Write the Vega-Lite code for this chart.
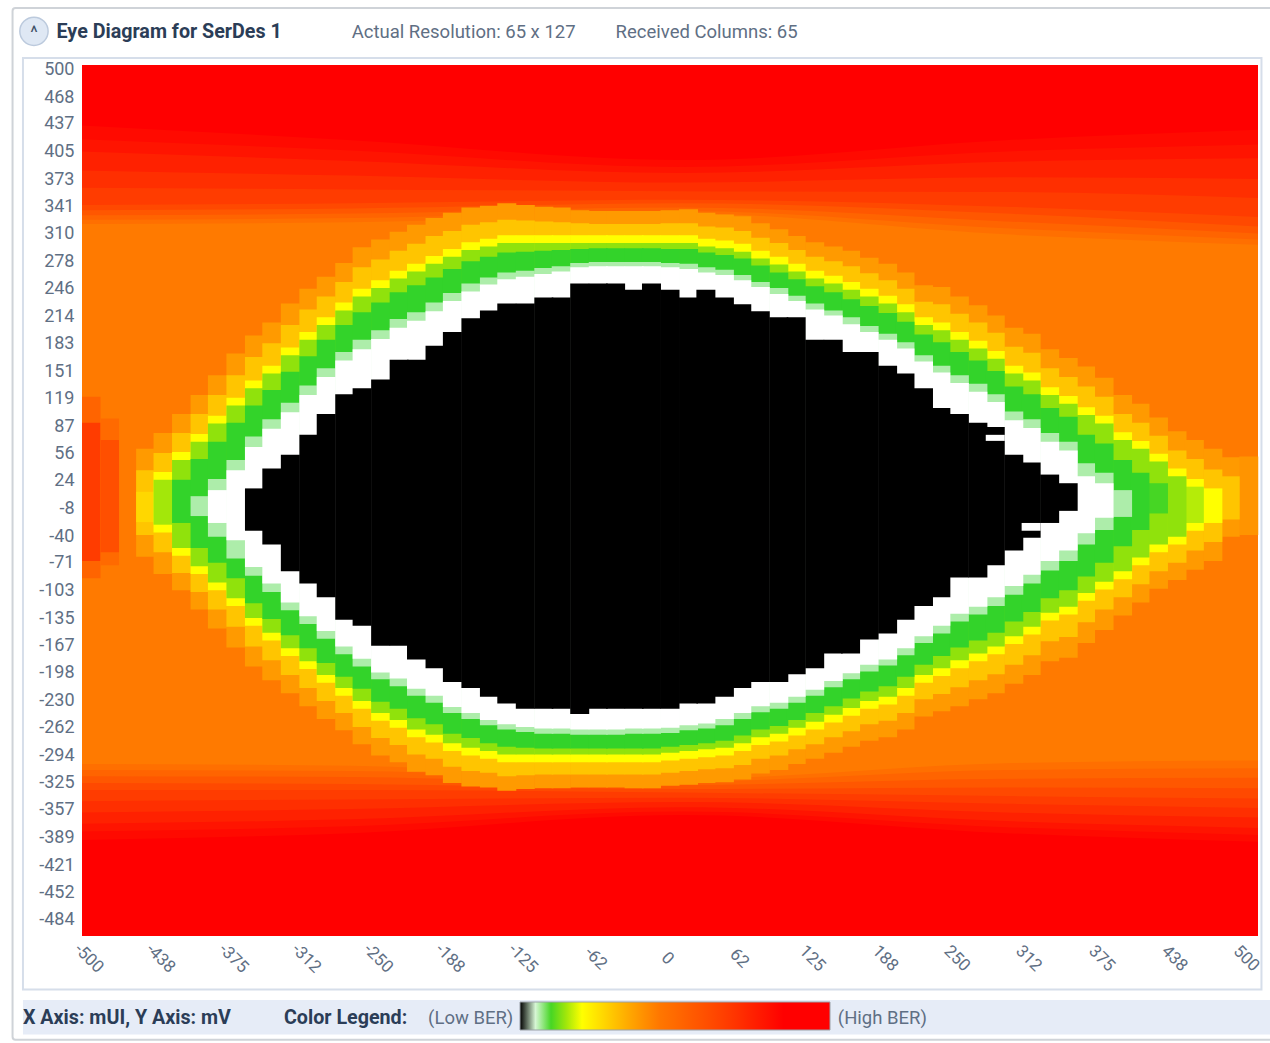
{"$schema":"https://vega.github.io/schema/vega-lite/v6.json","width":1176,"height":871,"autosize":"none","padding":{"left":82,"top":65,"right":12,"bottom":107},"background":"#ffffff",
"datasets":{
"panels":[{"x":-568,"x2":530,"a":570,"b":-624,"k":"outer"},{"x":-559,"x2":511,"a":512,"b":-566,"k":"inner"},{"x":-559,"x2":530,"a":-578,"b":-618,"k":"foot"}],
"base":[{"x":-508,"x2":508,"a":504,"b":-504,"v":44}],
"bands":[
{"x":-508,"y":320,"e":504,"v":48,"s":"t"},{"x":-275,"y":322,"e":504,"v":48,"s":"t"},{"x":10,"y":332,"e":504,"v":48,"s":"t"},{"x":290,"y":308,"e":504,"v":48,"s":"t"},{"x":508,"y":296,"e":504,"v":48,"s":"t"},
{"x":-508,"y":325,"e":504,"v":52,"s":"t"},{"x":-275,"y":327,"e":504,"v":52,"s":"t"},{"x":10,"y":335,"e":504,"v":52,"s":"t"},{"x":290,"y":315,"e":504,"v":52,"s":"t"},{"x":508,"y":302,"e":504,"v":52,"s":"t"},
{"x":-508,"y":330,"e":504,"v":57,"s":"t"},{"x":-275,"y":332,"e":504,"v":57,"s":"t"},{"x":10,"y":339,"e":504,"v":57,"s":"t"},{"x":290,"y":323,"e":504,"v":57,"s":"t"},{"x":508,"y":309,"e":504,"v":57,"s":"t"},
{"x":-508,"y":336,"e":504,"v":62,"s":"t"},{"x":-275,"y":338,"e":504,"v":62,"s":"t"},{"x":10,"y":344,"e":504,"v":62,"s":"t"},{"x":290,"y":332,"e":504,"v":62,"s":"t"},{"x":508,"y":317,"e":504,"v":62,"s":"t"},
{"x":-508,"y":342,"e":504,"v":67,"s":"t"},{"x":-275,"y":344,"e":504,"v":67,"s":"t"},{"x":10,"y":348,"e":504,"v":67,"s":"t"},{"x":290,"y":340,"e":504,"v":67,"s":"t"},{"x":508,"y":328,"e":504,"v":67,"s":"t"},
{"x":-508,"y":362,"e":504,"v":71,"s":"t"},{"x":-275,"y":360,"e":504,"v":71,"s":"t"},{"x":10,"y":358,"e":504,"v":71,"s":"t"},{"x":290,"y":357,"e":504,"v":71,"s":"t"},{"x":508,"y":350,"e":504,"v":71,"s":"t"},
{"x":-508,"y":382,"e":504,"v":75,"s":"t"},{"x":-275,"y":376,"e":504,"v":75,"s":"t"},{"x":10,"y":368,"e":504,"v":75,"s":"t"},{"x":290,"y":374,"e":504,"v":75,"s":"t"},{"x":508,"y":372,"e":504,"v":75,"s":"t"},
{"x":-508,"y":404,"e":504,"v":79,"s":"t"},{"x":-275,"y":393,"e":504,"v":79,"s":"t"},{"x":10,"y":379,"e":504,"v":79,"s":"t"},{"x":290,"y":392,"e":504,"v":79,"s":"t"},{"x":508,"y":396,"e":504,"v":79,"s":"t"},
{"x":-508,"y":418,"e":504,"v":82,"s":"t"},{"x":-275,"y":405,"e":504,"v":82,"s":"t"},{"x":10,"y":386,"e":504,"v":82,"s":"t"},{"x":290,"y":404,"e":504,"v":82,"s":"t"},{"x":508,"y":412,"e":504,"v":82,"s":"t"},
{"x":-508,"y":434,"e":504,"v":85,"s":"t"},{"x":-275,"y":417,"e":504,"v":85,"s":"t"},{"x":10,"y":394,"e":504,"v":85,"s":"t"},{"x":290,"y":417,"e":504,"v":85,"s":"t"},{"x":508,"y":429,"e":504,"v":85,"s":"t"},
{"x":-508,"y":-305,"e":-504,"v":48,"s":"b"},{"x":-275,"y":-307,"e":-504,"v":48,"s":"b"},{"x":10,"y":-322,"e":-504,"v":48,"s":"b"},{"x":290,"y":-304,"e":-504,"v":48,"s":"b"},{"x":508,"y":-301,"e":-504,"v":48,"s":"b"},
{"x":-508,"y":-312,"e":-504,"v":52,"s":"b"},{"x":-275,"y":-313,"e":-504,"v":52,"s":"b"},{"x":10,"y":-325,"e":-504,"v":52,"s":"b"},{"x":290,"y":-312,"e":-504,"v":52,"s":"b"},{"x":508,"y":-310,"e":-504,"v":52,"s":"b"},
{"x":-508,"y":-319,"e":-504,"v":57,"s":"b"},{"x":-275,"y":-320,"e":-504,"v":57,"s":"b"},{"x":10,"y":-329,"e":-504,"v":57,"s":"b"},{"x":290,"y":-322,"e":-504,"v":57,"s":"b"},{"x":508,"y":-321,"e":-504,"v":57,"s":"b"},
{"x":-508,"y":-327,"e":-504,"v":62,"s":"b"},{"x":-275,"y":-328,"e":-504,"v":62,"s":"b"},{"x":10,"y":-334,"e":-504,"v":62,"s":"b"},{"x":290,"y":-332,"e":-504,"v":62,"s":"b"},{"x":508,"y":-333,"e":-504,"v":62,"s":"b"},
{"x":-508,"y":-335,"e":-504,"v":67,"s":"b"},{"x":-275,"y":-335,"e":-504,"v":67,"s":"b"},{"x":10,"y":-338,"e":-504,"v":67,"s":"b"},{"x":290,"y":-342,"e":-504,"v":67,"s":"b"},{"x":508,"y":-345,"e":-504,"v":67,"s":"b"},
{"x":-508,"y":-348,"e":-504,"v":71,"s":"b"},{"x":-275,"y":-346,"e":-504,"v":71,"s":"b"},{"x":10,"y":-344,"e":-504,"v":71,"s":"b"},{"x":290,"y":-351,"e":-504,"v":71,"s":"b"},{"x":508,"y":-356,"e":-504,"v":71,"s":"b"},
{"x":-508,"y":-361,"e":-504,"v":75,"s":"b"},{"x":-275,"y":-357,"e":-504,"v":75,"s":"b"},{"x":10,"y":-349,"e":-504,"v":75,"s":"b"},{"x":290,"y":-361,"e":-504,"v":75,"s":"b"},{"x":508,"y":-367,"e":-504,"v":75,"s":"b"},
{"x":-508,"y":-374,"e":-504,"v":79,"s":"b"},{"x":-275,"y":-369,"e":-504,"v":79,"s":"b"},{"x":10,"y":-355,"e":-504,"v":79,"s":"b"},{"x":290,"y":-371,"e":-504,"v":79,"s":"b"},{"x":508,"y":-379,"e":-504,"v":79,"s":"b"},
{"x":-508,"y":-383,"e":-504,"v":82,"s":"b"},{"x":-275,"y":-377,"e":-504,"v":82,"s":"b"},{"x":10,"y":-360,"e":-504,"v":82,"s":"b"},{"x":290,"y":-378,"e":-504,"v":82,"s":"b"},{"x":508,"y":-387,"e":-504,"v":82,"s":"b"},
{"x":-508,"y":-393,"e":-504,"v":85,"s":"b"},{"x":-275,"y":-385,"e":-504,"v":85,"s":"b"},{"x":10,"y":-364,"e":-504,"v":85,"s":"b"},{"x":290,"y":-385,"e":-504,"v":85,"s":"b"},{"x":508,"y":-395,"e":-504,"v":85,"s":"b"}],
"spots":[{"x":-508,"x2":-492,"a":120,"b":-90,"v":52},{"x":-508,"x2":-492,"a":90,"b":-70,"v":67},{"x":-492,"x2":-476,"a":95,"b":-75,"v":50},{"x":-492,"x2":-476,"a":70,"b":-60,"v":60}],
"notches":[{"x":281,"a":76,"b":69,"v":2.5},{"x":312,"a":-26,"b":-35,"v":2.5}],
"cells":[
{"x":-453,"a":60,"b":-65,"v":38},{"x":-453,"a":35,"b":-40,"v":30},{"x":-453,"a":10,"b":-25,"v":27},
{"x":-438,"a":78,"b":-85,"v":38},{"x":-438,"a":55,"b":-60,"v":30},{"x":-438,"a":33,"b":-37,"v":20},{"x":-438,"a":24,"b":-28,"v":15},
{"x":-422,"a":100,"b":-104,"v":38},{"x":-422,"a":78,"b":-84,"v":30},{"x":-422,"a":56,"b":-64,"v":20},{"x":-422,"a":47,"b":-55,"v":14},{"x":-422,"a":24,"b":-26,"v":9},
{"x":-406,"a":122,"b":-126,"v":38},{"x":-406,"a":100,"b":-106,"v":30},{"x":-406,"a":77,"b":-85,"v":20},{"x":-406,"a":68,"b":-76,"v":14},{"x":-406,"a":48,"b":-55,"v":9},{"x":-406,"a":5,"b":-18,"v":6},
{"x":-391,"a":145,"b":-148,"v":38},{"x":-391,"a":122,"b":-126,"v":30},{"x":-391,"a":98,"b":-104,"v":20},{"x":-391,"a":89,"b":-95,"v":14},{"x":-391,"a":68,"b":-72,"v":9},{"x":-391,"a":25,"b":-42,"v":6},{"x":-391,"a":12,"b":-26,"v":2.5},
{"x":-375,"a":170,"b":-170,"v":38},{"x":-375,"a":145,"b":-146,"v":30},{"x":-375,"a":119,"b":-122,"v":20},{"x":-375,"a":110,"b":-113,"v":14},{"x":-375,"a":90,"b":-90,"v":9},{"x":-375,"a":47,"b":-67,"v":6},{"x":-375,"a":35,"b":-46,"v":2.5},
{"x":-359,"a":191,"b":-192,"v":38},{"x":-359,"a":166,"b":-169,"v":30},{"x":-359,"a":139,"b":-145,"v":20},{"x":-359,"a":130,"b":-136,"v":14},{"x":-359,"a":110,"b":-119,"v":9},{"x":-359,"a":74,"b":-87,"v":6},{"x":-359,"a":62,"b":-77,"v":2.5},{"x":-359,"a":14,"b":-35,"v":0},
{"x":-344,"a":206,"b":-208,"v":38},{"x":-344,"a":182,"b":-185,"v":30},{"x":-344,"a":156,"b":-162,"v":20},{"x":-344,"a":147,"b":-153,"v":14},{"x":-344,"a":128,"b":-137,"v":9},{"x":-344,"a":94,"b":-106,"v":6},{"x":-344,"a":83,"b":-96,"v":2.5},{"x":-344,"a":37,"b":-51,"v":0},
{"x":-328,"a":228,"b":-223,"v":38},{"x":-328,"a":203,"b":-202,"v":30},{"x":-328,"a":177,"b":-180,"v":20},{"x":-328,"a":168,"b":-171,"v":14},{"x":-328,"a":149,"b":-156,"v":9},{"x":-328,"a":113,"b":-127,"v":6},{"x":-328,"a":102,"b":-118,"v":2.5},{"x":-328,"a":53,"b":-82,"v":0},
{"x":-312,"a":245,"b":-238,"v":38},{"x":-312,"a":221,"b":-217,"v":30},{"x":-312,"a":195,"b":-195,"v":20},{"x":-312,"a":186,"b":-186,"v":14},{"x":-312,"a":167,"b":-171,"v":9},{"x":-312,"a":133,"b":-143,"v":6},{"x":-312,"a":122,"b":-134,"v":2.5},{"x":-312,"a":76,"b":-96,"v":0},
{"x":-297,"a":259,"b":-253,"v":38},{"x":-297,"a":236,"b":-232,"v":30},{"x":-297,"a":212,"b":-211,"v":20},{"x":-297,"a":203,"b":-202,"v":14},{"x":-297,"a":186,"b":-188,"v":9},{"x":-297,"a":153,"b":-160,"v":6},{"x":-297,"a":143,"b":-151,"v":2.5},{"x":-297,"a":100,"b":-112,"v":0},
{"x":-281,"a":275,"b":-266,"v":38},{"x":-281,"a":253,"b":-246,"v":30},{"x":-281,"a":229,"b":-226,"v":20},{"x":-281,"a":220,"b":-217,"v":14},{"x":-281,"a":203,"b":-204,"v":9},{"x":-281,"a":172,"b":-178,"v":6},{"x":-281,"a":162,"b":-169,"v":2.5},{"x":-281,"a":123,"b":-138,"v":0},
{"x":-266,"a":293,"b":-282,"v":38},{"x":-266,"a":270,"b":-262,"v":30},{"x":-266,"a":245,"b":-241,"v":20},{"x":-266,"a":236,"b":-232,"v":14},{"x":-266,"a":218,"b":-218,"v":9},{"x":-266,"a":186,"b":-192,"v":6},{"x":-266,"a":175,"b":-183,"v":2.5},{"x":-266,"a":130,"b":-145,"v":0},
{"x":-250,"a":302,"b":-295,"v":38},{"x":-250,"a":279,"b":-275,"v":30},{"x":-250,"a":255,"b":-255,"v":20},{"x":-250,"a":246,"b":-246,"v":14},{"x":-250,"a":229,"b":-233,"v":9},{"x":-250,"a":197,"b":-207,"v":6},{"x":-250,"a":187,"b":-199,"v":2.5},{"x":-250,"a":140,"b":-168,"v":0},
{"x":-234,"a":311,"b":-303,"v":38},{"x":-234,"a":289,"b":-283,"v":30},{"x":-234,"a":266,"b":-263,"v":20},{"x":-234,"a":257,"b":-254,"v":14},{"x":-234,"a":241,"b":-241,"v":9},{"x":-234,"a":210,"b":-215,"v":6},{"x":-234,"a":200,"b":-206,"v":2.5},{"x":-234,"a":163,"b":-168,"v":0},
{"x":-219,"a":319,"b":-314,"v":38},{"x":-219,"a":297,"b":-294,"v":30},{"x":-219,"a":274,"b":-274,"v":20},{"x":-219,"a":265,"b":-265,"v":14},{"x":-219,"a":249,"b":-252,"v":9},{"x":-219,"a":218,"b":-226,"v":6},{"x":-219,"a":208,"b":-218,"v":2.5},{"x":-219,"a":163,"b":-184,"v":0},
{"x":-203,"a":327,"b":-318,"v":38},{"x":-203,"a":306,"b":-299,"v":30},{"x":-203,"a":283,"b":-280,"v":20},{"x":-203,"a":274,"b":-271,"v":14},{"x":-203,"a":258,"b":-259,"v":9},{"x":-203,"a":229,"b":-234,"v":6},{"x":-203,"a":219,"b":-226,"v":2.5},{"x":-203,"a":179,"b":-194,"v":0},
{"x":-188,"a":333,"b":-327,"v":38},{"x":-188,"a":312,"b":-308,"v":30},{"x":-188,"a":291,"b":-290,"v":20},{"x":-188,"a":282,"b":-281,"v":14},{"x":-188,"a":268,"b":-270,"v":9},{"x":-188,"a":240,"b":-246,"v":6},{"x":-188,"a":231,"b":-239,"v":2.5},{"x":-188,"a":195,"b":-210,"v":0},
{"x":-172,"a":339,"b":-331,"v":38},{"x":-172,"a":319,"b":-313,"v":30},{"x":-172,"a":299,"b":-295,"v":20},{"x":-172,"a":290,"b":-286,"v":14},{"x":-172,"a":277,"b":-275,"v":9},{"x":-172,"a":251,"b":-253,"v":6},{"x":-172,"a":242,"b":-246,"v":2.5},{"x":-172,"a":211,"b":-217,"v":0},
{"x":-156,"a":341,"b":-332,"v":38},{"x":-156,"a":322,"b":-315,"v":30},{"x":-156,"a":303,"b":-299,"v":20},{"x":-156,"a":294,"b":-290,"v":14},{"x":-156,"a":282,"b":-281,"v":9},{"x":-156,"a":258,"b":-260,"v":6},{"x":-156,"a":250,"b":-254,"v":2.5},{"x":-156,"a":220,"b":-227,"v":0},
{"x":-141,"a":344,"b":-336,"v":38},{"x":-141,"a":325,"b":-319,"v":30},{"x":-141,"a":307,"b":-303,"v":20},{"x":-141,"a":298,"b":-294,"v":14},{"x":-141,"a":287,"b":-285,"v":9},{"x":-141,"a":264,"b":-265,"v":6},{"x":-141,"a":256,"b":-259,"v":2.5},{"x":-141,"a":228,"b":-235,"v":0},
{"x":-125,"a":342,"b":-334,"v":38},{"x":-125,"a":324,"b":-318,"v":30},{"x":-125,"a":307,"b":-303,"v":20},{"x":-125,"a":298,"b":-294,"v":14},{"x":-125,"a":288,"b":-286,"v":9},{"x":-125,"a":266,"b":-268,"v":6},{"x":-125,"a":259,"b":-262,"v":2.5},{"x":-125,"a":228,"b":-241,"v":0},
{"x":-109,"a":340,"b":-333,"v":38},{"x":-109,"a":323,"b":-317,"v":30},{"x":-109,"a":307,"b":-303,"v":20},{"x":-109,"a":298,"b":-294,"v":14},{"x":-109,"a":289,"b":-287,"v":9},{"x":-109,"a":269,"b":-270,"v":6},{"x":-109,"a":262,"b":-264,"v":2.5},{"x":-109,"a":235,"b":-241,"v":0},
{"x":-94,"a":339,"b":-333,"v":38},{"x":-94,"a":322,"b":-317,"v":30},{"x":-94,"a":307,"b":-303,"v":20},{"x":-94,"a":298,"b":-294,"v":14},{"x":-94,"a":290,"b":-287,"v":9},{"x":-94,"a":271,"b":-270,"v":6},{"x":-94,"a":265,"b":-264,"v":2.5},{"x":-94,"a":235,"b":-241,"v":0},
{"x":-78,"a":336,"b":-332,"v":38},{"x":-78,"a":321,"b":-317,"v":30},{"x":-78,"a":307,"b":-303,"v":20},{"x":-78,"a":298,"b":-294,"v":14},{"x":-78,"a":291,"b":-287,"v":9},{"x":-78,"a":275,"b":-271,"v":6},{"x":-78,"a":270,"b":-265,"v":2.5},{"x":-78,"a":251,"b":-247,"v":0},
{"x":-62,"a":335,"b":-332,"v":38},{"x":-62,"a":320,"b":-317,"v":30},{"x":-62,"a":307,"b":-303,"v":20},{"x":-62,"a":298,"b":-294,"v":14},{"x":-62,"a":292,"b":-287,"v":9},{"x":-62,"a":276,"b":-271,"v":6},{"x":-62,"a":271,"b":-265,"v":2.5},{"x":-62,"a":251,"b":-241,"v":0},
{"x":-47,"a":335,"b":-332,"v":38},{"x":-47,"a":320,"b":-317,"v":30},{"x":-47,"a":307,"b":-303,"v":20},{"x":-47,"a":298,"b":-294,"v":14},{"x":-47,"a":292,"b":-287,"v":9},{"x":-47,"a":276,"b":-271,"v":6},{"x":-47,"a":271,"b":-265,"v":2.5},{"x":-47,"a":251,"b":-241,"v":0},
{"x":-31,"a":335,"b":-333,"v":38},{"x":-31,"a":320,"b":-317,"v":30},{"x":-31,"a":307,"b":-303,"v":20},{"x":-31,"a":298,"b":-294,"v":14},{"x":-31,"a":292,"b":-287,"v":9},{"x":-31,"a":276,"b":-270,"v":6},{"x":-31,"a":271,"b":-264,"v":2.5},{"x":-31,"a":244,"b":-241,"v":0},
{"x":-16,"a":335,"b":-333,"v":38},{"x":-16,"a":320,"b":-317,"v":30},{"x":-16,"a":307,"b":-303,"v":20},{"x":-16,"a":298,"b":-294,"v":14},{"x":-16,"a":292,"b":-287,"v":9},{"x":-16,"a":276,"b":-270,"v":6},{"x":-16,"a":271,"b":-264,"v":2.5},{"x":-16,"a":251,"b":-241,"v":0},
{"x":0,"a":336,"b":-330,"v":38},{"x":0,"a":321,"b":-315,"v":30},{"x":0,"a":307,"b":-301,"v":20},{"x":0,"a":298,"b":-292,"v":14},{"x":0,"a":291,"b":-285,"v":9},{"x":0,"a":275,"b":-269,"v":6},{"x":0,"a":270,"b":-263,"v":2.5},{"x":0,"a":244,"b":-241,"v":0},
{"x":16,"a":337,"b":-329,"v":38},{"x":16,"a":321,"b":-313,"v":30},{"x":16,"a":307,"b":-299,"v":20},{"x":16,"a":298,"b":-290,"v":14},{"x":16,"a":291,"b":-283,"v":9},{"x":16,"a":274,"b":-266,"v":6},{"x":16,"a":268,"b":-260,"v":2.5},{"x":16,"a":235,"b":-235,"v":0},
{"x":31,"a":333,"b":-327,"v":38},{"x":31,"a":317,"b":-311,"v":30},{"x":31,"a":303,"b":-297,"v":20},{"x":31,"a":294,"b":-288,"v":14},{"x":31,"a":287,"b":-281,"v":9},{"x":31,"a":270,"b":-264,"v":6},{"x":31,"a":264,"b":-258,"v":2.5},{"x":31,"a":244,"b":-235,"v":0},
{"x":47,"a":331,"b":-326,"v":38},{"x":47,"a":316,"b":-310,"v":30},{"x":47,"a":301,"b":-295,"v":20},{"x":47,"a":292,"b":-286,"v":14},{"x":47,"a":284,"b":-278,"v":9},{"x":47,"a":267,"b":-260,"v":6},{"x":47,"a":261,"b":-253,"v":2.5},{"x":47,"a":235,"b":-227,"v":0},
{"x":62,"a":329,"b":-323,"v":38},{"x":62,"a":312,"b":-306,"v":30},{"x":62,"a":297,"b":-290,"v":20},{"x":62,"a":288,"b":-281,"v":14},{"x":62,"a":280,"b":-272,"v":9},{"x":62,"a":261,"b":-253,"v":6},{"x":62,"a":255,"b":-246,"v":2.5},{"x":62,"a":227,"b":-217,"v":0},
{"x":78,"a":321,"b":-316,"v":38},{"x":78,"a":304,"b":-299,"v":30},{"x":78,"a":289,"b":-283,"v":20},{"x":78,"a":280,"b":-274,"v":14},{"x":78,"a":272,"b":-265,"v":9},{"x":78,"a":253,"b":-245,"v":6},{"x":78,"a":247,"b":-238,"v":2.5},{"x":78,"a":219,"b":-210,"v":0},
{"x":94,"a":314,"b":-312,"v":38},{"x":94,"a":298,"b":-295,"v":30},{"x":94,"a":282,"b":-279,"v":20},{"x":94,"a":273,"b":-270,"v":14},{"x":94,"a":264,"b":-261,"v":9},{"x":94,"a":246,"b":-241,"v":6},{"x":94,"a":239,"b":-234,"v":2.5},{"x":94,"a":212,"b":-210,"v":0},
{"x":109,"a":306,"b":-305,"v":38},{"x":109,"a":290,"b":-288,"v":30},{"x":109,"a":274,"b":-272,"v":20},{"x":109,"a":265,"b":-263,"v":14},{"x":109,"a":256,"b":-254,"v":9},{"x":109,"a":237,"b":-234,"v":6},{"x":109,"a":231,"b":-227,"v":2.5},{"x":109,"a":212,"b":-201,"v":0},
{"x":125,"a":299,"b":-299,"v":38},{"x":125,"a":282,"b":-282,"v":30},{"x":125,"a":266,"b":-265,"v":20},{"x":125,"a":257,"b":-256,"v":14},{"x":125,"a":248,"b":-246,"v":9},{"x":125,"a":228,"b":-226,"v":6},{"x":125,"a":221,"b":-219,"v":2.5},{"x":125,"a":186,"b":-194,"v":0},
{"x":141,"a":294,"b":-292,"v":38},{"x":141,"a":277,"b":-274,"v":30},{"x":141,"a":260,"b":-257,"v":20},{"x":141,"a":251,"b":-248,"v":14},{"x":141,"a":241,"b":-238,"v":9},{"x":141,"a":220,"b":-216,"v":6},{"x":141,"a":214,"b":-209,"v":2.5},{"x":141,"a":186,"b":-177,"v":0},
{"x":156,"a":289,"b":-285,"v":38},{"x":156,"a":271,"b":-267,"v":30},{"x":156,"a":253,"b":-249,"v":20},{"x":156,"a":244,"b":-240,"v":14},{"x":156,"a":233,"b":-229,"v":9},{"x":156,"a":212,"b":-207,"v":6},{"x":156,"a":204,"b":-200,"v":2.5},{"x":156,"a":172,"b":-177,"v":0},
{"x":172,"a":281,"b":-278,"v":38},{"x":172,"a":263,"b":-259,"v":30},{"x":172,"a":245,"b":-241,"v":20},{"x":172,"a":236,"b":-232,"v":14},{"x":172,"a":225,"b":-221,"v":9},{"x":172,"a":202,"b":-198,"v":6},{"x":172,"a":195,"b":-190,"v":2.5},{"x":172,"a":172,"b":-161,"v":0},
{"x":188,"a":274,"b":-274,"v":38},{"x":188,"a":255,"b":-255,"v":30},{"x":188,"a":237,"b":-236,"v":20},{"x":188,"a":228,"b":-227,"v":14},{"x":188,"a":217,"b":-215,"v":9},{"x":188,"a":193,"b":-191,"v":6},{"x":188,"a":186,"b":-184,"v":2.5},{"x":188,"a":156,"b":-154,"v":0},
{"x":203,"a":264,"b":-265,"v":38},{"x":203,"a":245,"b":-246,"v":30},{"x":203,"a":227,"b":-226,"v":20},{"x":203,"a":218,"b":-217,"v":14},{"x":203,"a":207,"b":-204,"v":9},{"x":203,"a":183,"b":-179,"v":6},{"x":203,"a":176,"b":-171,"v":2.5},{"x":203,"a":147,"b":-138,"v":0},
{"x":219,"a":249,"b":-250,"v":38},{"x":219,"a":230,"b":-230,"v":30},{"x":219,"a":212,"b":-211,"v":20},{"x":219,"a":203,"b":-202,"v":14},{"x":219,"a":192,"b":-190,"v":9},{"x":219,"a":168,"b":-165,"v":6},{"x":219,"a":161,"b":-157,"v":2.5},{"x":219,"a":130,"b":-122,"v":0},
{"x":234,"a":247,"b":-244,"v":38},{"x":234,"a":227,"b":-224,"v":30},{"x":234,"a":206,"b":-203,"v":20},{"x":234,"a":197,"b":-194,"v":14},{"x":234,"a":183,"b":-180,"v":9},{"x":234,"a":156,"b":-154,"v":6},{"x":234,"a":148,"b":-145,"v":2.5},{"x":234,"a":107,"b":-112,"v":0},
{"x":250,"a":236,"b":-238,"v":38},{"x":250,"a":216,"b":-216,"v":30},{"x":250,"a":195,"b":-194,"v":20},{"x":250,"a":186,"b":-185,"v":14},{"x":250,"a":172,"b":-170,"v":9},{"x":250,"a":145,"b":-140,"v":6},{"x":250,"a":136,"b":-131,"v":2.5},{"x":250,"a":100,"b":-89,"v":0},
{"x":266,"a":226,"b":-230,"v":38},{"x":266,"a":206,"b":-208,"v":30},{"x":266,"a":185,"b":-186,"v":20},{"x":266,"a":176,"b":-177,"v":14},{"x":266,"a":162,"b":-162,"v":9},{"x":266,"a":135,"b":-132,"v":6},{"x":266,"a":126,"b":-123,"v":2.5},{"x":266,"a":90,"b":-89,"v":0},
{"x":281,"a":214,"b":-223,"v":38},{"x":281,"a":194,"b":-201,"v":30},{"x":281,"a":173,"b":-178,"v":20},{"x":281,"a":164,"b":-169,"v":14},{"x":281,"a":150,"b":-153,"v":9},{"x":281,"a":123,"b":-122,"v":6},{"x":281,"a":114,"b":-112,"v":2.5},{"x":281,"a":85,"b":-75,"v":0},
{"x":297,"a":200,"b":-212,"v":38},{"x":297,"a":178,"b":-190,"v":30},{"x":297,"a":156,"b":-166,"v":20},{"x":297,"a":147,"b":-157,"v":14},{"x":297,"a":132,"b":-140,"v":9},{"x":297,"a":103,"b":-109,"v":6},{"x":297,"a":93,"b":-99,"v":2.5},{"x":297,"a":53,"b":-58,"v":0},
{"x":312,"a":193,"b":-202,"v":38},{"x":312,"a":171,"b":-179,"v":30},{"x":312,"a":148,"b":-155,"v":20},{"x":312,"a":139,"b":-146,"v":14},{"x":312,"a":123,"b":-129,"v":9},{"x":312,"a":94,"b":-96,"v":6},{"x":312,"a":84,"b":-86,"v":2.5},{"x":312,"a":44,"b":-43,"v":0},
{"x":328,"a":175,"b":-186,"v":38},{"x":328,"a":153,"b":-163,"v":30},{"x":328,"a":131,"b":-139,"v":20},{"x":328,"a":122,"b":-130,"v":14},{"x":328,"a":107,"b":-113,"v":9},{"x":328,"a":78,"b":-81,"v":6},{"x":328,"a":68,"b":-70,"v":2.5},{"x":328,"a":30,"b":-26,"v":0},
{"x":344,"a":165,"b":-182,"v":38},{"x":344,"a":143,"b":-158,"v":30},{"x":344,"a":121,"b":-132,"v":20},{"x":344,"a":112,"b":-123,"v":14},{"x":344,"a":97,"b":-104,"v":9},{"x":344,"a":68,"b":-70,"v":6},{"x":344,"a":58,"b":-58,"v":2.5},{"x":344,"a":20,"b":-12,"v":0},
{"x":359,"a":155,"b":-165,"v":38},{"x":359,"a":132,"b":-141,"v":30},{"x":359,"a":108,"b":-116,"v":20},{"x":359,"a":99,"b":-107,"v":14},{"x":359,"a":76,"b":-88,"v":9},{"x":359,"a":43,"b":-51,"v":6},{"x":359,"a":28,"b":-38,"v":2.5},
{"x":375,"a":142,"b":-150,"v":38},{"x":375,"a":120,"b":-126,"v":30},{"x":375,"a":98,"b":-103,"v":20},{"x":375,"a":89,"b":-94,"v":14},{"x":375,"a":66,"b":-72,"v":9},{"x":375,"a":32,"b":-34,"v":6},{"x":375,"a":20,"b":-20,"v":2.5},
{"x":391,"a":122,"b":-133,"v":38},{"x":391,"a":100,"b":-112,"v":30},{"x":391,"a":79,"b":-91,"v":20},{"x":391,"a":70,"b":-82,"v":14},{"x":391,"a":47,"b":-53,"v":9},{"x":391,"a":12,"b":-19,"v":6},
{"x":406,"a":112,"b":-118,"v":38},{"x":406,"a":90,"b":-97,"v":30},{"x":406,"a":69,"b":-75,"v":20},{"x":406,"a":60,"b":-66,"v":14},{"x":406,"a":32,"b":-34,"v":9},
{"x":422,"a":96,"b":-102,"v":38},{"x":422,"a":75,"b":-82,"v":30},{"x":422,"a":54,"b":-60,"v":20},{"x":422,"a":45,"b":-51,"v":14},{"x":422,"a":20,"b":-15,"v":10},
{"x":438,"a":80,"b":-92,"v":38},{"x":438,"a":58,"b":-72,"v":30},{"x":438,"a":37,"b":-51,"v":20},{"x":438,"a":28,"b":-42,"v":14},
{"x":453,"a":70,"b":-80,"v":38},{"x":453,"a":48,"b":-58,"v":30},{"x":453,"a":25,"b":-35,"v":20},{"x":453,"a":16,"b":-26,"v":16},
{"x":469,"a":60,"b":-70,"v":38},{"x":469,"a":36,"b":-48,"v":30},{"x":469,"a":14,"b":-26,"v":20},
{"x":484,"a":50,"b":-42,"v":38},{"x":484,"a":28,"b":-22,"v":30},
{"x":500,"a":51,"b":-40,"v":39}],
"labels":[
{"x":-530,"y":542,"t":"Eye Diagram for SerDes 1","k":"b"},{"x":-275,"y":542,"t":"Actual Resolution: 65 x 127","k":"n"},{"x":-47,"y":542,"t":"Received Columns: 65","k":"n"},
{"x":-559,"y":-599,"t":"X Axis: mUI, Y Axis: mV","k":"b"},{"x":-333.5,"y":-599,"t":"Color Legend:","k":"b"},{"x":-209,"y":-599,"t":"(Low BER)","k":"n"},{"x":145,"y":-599,"t":"(High BER)","k":"n"}],
"icon":[{"x":-549.5,"y":543,"t":"^"}]
},
"layer":[
{"data":{"name":"panels"},"mark":{"type":"rect","clip":false,"cornerRadius":3,"fill":"#ffffff","stroke":"#cfd3d8","strokeWidth":2},"transform":[{"filter":"datum.k=='outer'"}],"encoding":{"x":{"field":"x","type":"quantitative","scale":{"domain":[-508,508],"nice":false,"zero":false},"axis":{"zindex":1,"values":[-500,-438,-375,-312,-250,-188,-125,-62,0,62,125,188,250,312,375,438,500],"labelExpr":"''+datum.value","tickCount":40,"title":null,"grid":false,"domain":false,"ticks":false,"labelAngle":45,"labelAlign":"center","labelBaseline":"middle","labelPadding":22,"labelOffset":-3,"labelFontSize":17,"labelFont":"Roboto","labelColor":"#5f6f84","labelOverlap":false,"labelFlush":false,"labelBound":false}},"x2":{"field":"x2"},"y":{"field":"a","type":"quantitative","scale":{"domain":[-504,504],"nice":false,"zero":false},"axis":{"zindex":1,"values":[500,468,437,405,373,341,310,278,246,214,183,151,119,87,56,24,-8,-40,-71,-103,-135,-167,-198,-230,-262,-294,-325,-357,-389,-421,-452,-484],"labelExpr":"''+datum.value","tickCount":40,"title":null,"grid":false,"domain":false,"ticks":false,"labelPadding":8,"labelOffset":1,"labelFontSize":18,"labelFont":"Roboto","labelColor":"#5f6f84","labelOverlap":false,"labelFlush":false,"labelBound":false}},"y2":{"field":"b"}}},
{"data":{"name":"panels"},"mark":{"type":"rect","clip":false,"fill":"#ffffff","stroke":"#d6deea","strokeWidth":2},"transform":[{"filter":"datum.k=='inner'"}],"encoding":{"x":{"field":"x","type":"quantitative"},"x2":{"field":"x2"},"y":{"field":"a","type":"quantitative"},"y2":{"field":"b"}}},
{"data":{"name":"panels"},"mark":{"type":"rect","clip":false,"fill":"#e6ecf7"},"transform":[{"filter":"datum.k=='foot'"}],"encoding":{"x":{"field":"x","type":"quantitative"},"x2":{"field":"x2"},"y":{"field":"a","type":"quantitative"},"y2":{"field":"b"}}},
{"data":{"name":"base"},"mark":{"type":"rect"},"encoding":{"x":{"field":"x","type":"quantitative"},"x2":{"field":"x2"},"y":{"field":"a","type":"quantitative"},"y2":{"field":"b"},"color":{"field":"v","type":"quantitative","scale":{"domain":[0,0.3,0.7,4,9,14,20,33,44,67,85,100],"range":["#000000","#444444","#ffffff","#ffffff","#33d32a","#90e20c","#ffff00","#ffb400","#ff7a00","#ff3c00","#ff0000","#ff0000"],"clamp":true,"interpolate":"rgb"},"legend":{"orient":"none","legendX":438,"legendY":937,"direction":"horizontal","gradientLength":310,"gradientThickness":28,"title":null,"labelOpacity":0,"labelFontSize":1,"tickCount":2,"gradientStrokeColor":"#9aa0a8","gradientStrokeWidth":1}}}},
{"data":{"name":"bands"},"mark":{"type":"area","interpolate":"monotone"},"encoding":{"x":{"field":"x","type":"quantitative"},"y":{"field":"y","type":"quantitative"},"y2":{"field":"e"},"detail":[{"field":"s"},{"field":"v"}],"color":{"field":"v","type":"quantitative"}}},
{"data":{"name":"spots"},"mark":{"type":"rect"},"encoding":{"x":{"field":"x","type":"quantitative"},"x2":{"field":"x2"},"y":{"field":"a","type":"quantitative"},"y2":{"field":"b"},"color":{"field":"v","type":"quantitative"}}},
{"data":{"name":"cells"},"mark":{"type":"rect","width":19},"encoding":{"x":{"field":"x","type":"quantitative"},"y":{"field":"a","type":"quantitative"},"y2":{"field":"b"},"color":{"field":"v","type":"quantitative"},"order":{"field":"v","sort":"descending"}}},
{"data":{"name":"notches"},"mark":{"type":"rect","width":19},"encoding":{"x":{"field":"x","type":"quantitative"},"y":{"field":"a","type":"quantitative"},"y2":{"field":"b"},"color":{"field":"v","type":"quantitative"}}},
{"data":{"name":"icon"},"mark":{"type":"point","filled":true,"clip":false,"size":800,"fill":"#dfe8f4","stroke":"#bccadd","strokeWidth":1.5,"opacity":1},"encoding":{"x":{"field":"x","type":"quantitative"},"y":{"field":"y","type":"quantitative"}}},
{"data":{"name":"icon"},"mark":{"type":"text","clip":false,"fontSize":18,"font":"Roboto","color":"#3f5068","dy":3},"encoding":{"x":{"field":"x","type":"quantitative"},"y":{"field":"y","type":"quantitative"},"text":{"field":"t"}}},
{"data":{"name":"labels"},"transform":[{"filter":"datum.k=='b'"}],"mark":{"type":"text","clip":false,"align":"left","baseline":"middle","font":"Roboto","fontSize":19.7,"fontWeight":"bold","fill":"#2b3d57"},"encoding":{"x":{"field":"x","type":"quantitative"},"y":{"field":"y","type":"quantitative"},"text":{"field":"t"}}},
{"data":{"name":"labels"},"transform":[{"filter":"datum.k=='n'"}],"mark":{"type":"text","clip":false,"align":"left","baseline":"middle","font":"Roboto","fontSize":18.5,"fill":"#5f6f84"},"encoding":{"x":{"field":"x","type":"quantitative"},"y":{"field":"y","type":"quantitative"},"text":{"field":"t"}}}
],
"resolve":{"scale":{"color":"shared"}},
"config":{"view":{"stroke":null}}}
